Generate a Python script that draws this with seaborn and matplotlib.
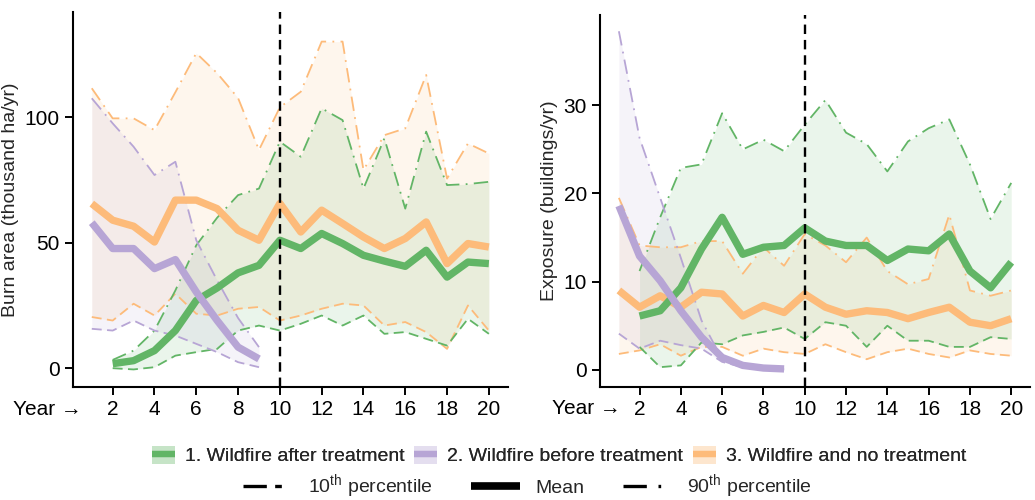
import numpy as np
import pandas as pd
import matplotlib
matplotlib.use("Agg")
import matplotlib.pyplot as plt
from matplotlib.lines import Line2D
from matplotlib.patches import Patch
import seaborn as sns

# ---------------- data ----------------
years_all = list(range(1, 21))      # wildfire and no treatment
years_after = list(range(2, 21))    # wildfire after treatment
years_before = list(range(1, 10))   # wildfire before treatment

# Burn area (thousand ha/yr)
burn_after_mean = [1.8, 3, 7, 15, 27, 32, 38, 41, 51, 47.7, 53.7, 49.7, 45, 42.7, 40.6, 47, 36.3, 42.3, 41.7]
burn_after_p10 = [0, -0.5, 0.4, 5, 6.4, 7.7, 15, 17, 15, 17.7, 21, 17, 21, 13.7, 14.4, 11.7, 9, 19.7, 13.7]
burn_after_p90 = [3.3, 7, 15, 31, 49, 60, 69, 71.6, 90.3, 84.3, 103.6, 98.9, 71.6, 91.6, 63.6, 94.3, 73, 73.4, 74.3]

burn_before_mean = [58, 47.7, 47.7, 39.7, 43.3, 30.4, 19, 8.4, 3.7]
burn_before_p10 = [15.7, 15, 19, 15, 13, 9.7, 6.4, 2.4, 0.4]
burn_before_p90 = [107.6, 97.6, 88.3, 77, 82.3, 51, 35, 20, 8.4]

burn_none_mean = [65.6, 59, 56.6, 50.3, 67, 67, 63.6, 55, 51, 65.7, 54.3, 63, 57.7, 52.3, 47.7, 51.7, 58.3, 41.7, 49.7, 48.3]
burn_none_p10 = [20.4, 19, 25.7, 21, 29.7, 21.7, 21, 23.7, 24.4, 19, 21, 23.7, 25.7, 25, 17, 18.4, 14.4, 7.7, 25, 15]
burn_none_p90 = [111.6, 99.6, 99.6, 94.9, 110, 125.6, 117.6, 107.7, 87, 104, 110.2, 130.2, 130.2, 79, 92.9, 95.6, 116.9, 75.6, 89.6, 85.6]

# Exposure (buildings/yr)
exp_after_mean = [6.1, 6.7, 9.3, 13.7, 17.3, 13.1, 13.9, 14.1, 16.1, 14.6, 14.1, 14.1, 12.4, 13.7, 13.5, 15.4, 11.2, 9.3, 12.2]
exp_after_p10 = [2.6, 0.3, 0.5, 3.1, 2.9, 3.9, 4.3, 4.8, 3.5, 5.4, 5, 2.6, 5, 3.3, 3.3, 2.6, 2.6, 3.7, 3.5]
exp_after_p90 = [11.2, 17.3, 22.9, 23.3, 29.1, 25, 26.1, 24.8, 27.8, 30.6, 26.9, 25.6, 22.5, 25.9, 27.4, 28.4, 23.3, 17.1, 21.2]

exp_before_mean = [18.6, 12.9, 10.1, 6.7, 3.7, 1.4, 0.5, 0.2, 0.1]
exp_before_p10 = [4.1, 2.4, 3.3, 2.8, 2.4, 0.9, 0.3, 0.1, 0.0]
exp_before_p90 = [38.4, 26.3, 19.5, 12.7, 5.6, 1.2, 0.4, 0.2, 0.1]

exp_none_mean = [9, 7.1, 8.4, 7.1, 8.8, 8.6, 6.1, 7.3, 6.5, 8.6, 7.1, 6.3, 6.7, 6.5, 5.8, 6.5, 7.1, 5.4, 5, 5.8]
exp_none_p10 = [1.8, 2.2, 2.9, 1.6, 2.6, 2.6, 1.6, 2.4, 2.0, 1.8, 2.9, 2.0, 1.2, 2.0, 2.4, 1.8, 1.4, 2.2, 1.8, 1.6]
exp_none_p90 = [19.5, 14.1, 13.9, 13.9, 14.6, 14.6, 10.9, 13.9, 11.8, 15.4, 14.1, 12.2, 15, 11.2, 9.7, 10.3, 17.6, 9, 8.4, 9]

group_labels = ["1. Wildfire after treatment", "2. Wildfire before treatment", "3. Wildfire and no treatment"]
x_ticks = [2, 4, 6, 8, 10, 12, 14, 16, 18, 20]
treatment_year = 10

# ---------------- style ----------------
sns.set_theme(style="ticks")
plt.rcParams["font.family"] = ["Liberation Sans", "DejaVu Sans"]
plt.rcParams["mathtext.fontset"] = "custom"
plt.rcParams["mathtext.rm"] = "Liberation Sans"
plt.rcParams["mathtext.it"] = "Liberation Sans:italic"
plt.rcParams["mathtext.bf"] = "Liberation Sans:bold"

colors = {group_labels[0]: "#62B566", group_labels[1]: "#B7A5D5", group_labels[2]: "#FDBB7A"}
fill_alpha = 0.13
ls_p10 = (0, (5.5, 3))
ls_p90 = (0, (8, 3.5, 1, 3.5))
FS_TICK = 15
FS_LAB = 14
FS_LEG = 14


def make_df(x, mean, p10, p90, label):
    return pd.DataFrame({"year": x, "mean": mean, "p10": p10, "p90": p90, "group": label})


panels = [
    dict(df=pd.concat([
        make_df(years_after, burn_after_mean, burn_after_p10, burn_after_p90, group_labels[0]),
        make_df(years_before, burn_before_mean, burn_before_p10, burn_before_p90, group_labels[1]),
        make_df(years_all, burn_none_mean, burn_none_p10, burn_none_p90, group_labels[2]),
    ]), ylabel="Burn area (thousand ha/yr)", yticks=[0, 50, 100], ylim=(-7.5, 142), yearx=0.02),
    dict(df=pd.concat([
        make_df(years_after, exp_after_mean, exp_after_p10, exp_after_p90, group_labels[0]),
        make_df(years_before, exp_before_mean, exp_before_p10, exp_before_p90, group_labels[1]),
        make_df(years_all, exp_none_mean, exp_none_p10, exp_none_p90, group_labels[2]),
    ]), ylabel="Exposure (buildings/yr)", yticks=[0, 10, 20, 30], ylim=(-1.95, 40.3), yearx=0.047),
]

fig = plt.figure(figsize=(10.35, 5.0), dpi=100)
ax_pos = [[0.0705, 0.226, 0.420, 0.75], [0.580, 0.226, 0.415, 0.745]]

draw_order = [group_labels[2], group_labels[0], group_labels[1]]

for pos, p in zip(ax_pos, panels):
    ax = fig.add_axes(pos)
    df = p["df"]
    # fills
    for g in draw_order:
        d = df[df.group == g]
        ax.fill_between(d["year"], d["p10"], d["p90"], color=colors[g], alpha=fill_alpha, lw=0)
    # percentile lines
    for g in draw_order:
        d = df[df.group == g]
        sns.lineplot(data=d, x="year", y="p10", ax=ax, color=colors[g], lw=1.3,
                     linestyle=ls_p10, legend=False)
        sns.lineplot(data=d, x="year", y="p90", ax=ax, color=colors[g], lw=1.3,
                     linestyle=ls_p90, legend=False)
    # mean lines
    for g in draw_order:
        d = df[df.group == g]
        sns.lineplot(data=d, x="year", y="mean", ax=ax, color=colors[g], lw=5.3,
                     solid_joinstyle="round", solid_capstyle="butt", legend=False)
    ax.axvline(treatment_year, color="black", lw=1.7, linestyle=(0, (4, 2.5)))

    ax.set_xlim(0.1, 20.9)
    ax.set_ylim(*p["ylim"])
    ax.set_xticks(x_ticks)
    ax.set_yticks(p["yticks"])
    ax.set_xlabel("")
    ax.set_ylabel(p["ylabel"], fontsize=FS_LAB, labelpad=4)
    ax.tick_params(axis="both", labelsize=FS_TICK, length=5.5, width=1.4, color="black",
                   labelcolor="black", pad=4)
    for s in ["left", "bottom"]:
        ax.spines[s].set_linewidth(1.5)
        ax.spines[s].set_color("black")
    sns.despine(ax=ax)
    ax.text(p["yearx"], -0.059, "Year \u2192", transform=ax.transAxes, ha="right", va="center",
            fontsize=FS_TICK, color="black",
            family=["Liberation Sans", "DejaVu Sans"])

# legend row 1: groups
group_handles = [
    (Patch(facecolor=colors[g], alpha=0.2, edgecolor="none"),
     Line2D([0], [0], color=colors[g], lw=4.5, solid_capstyle="butt"))
    for g in group_labels
]
leg1 = fig.legend(group_handles, group_labels, loc="center", bbox_to_anchor=(0.54, 0.089),
                  ncol=3, frameon=False, fontsize=FS_LEG, handlelength=1.2, handleheight=1.1,
                  columnspacing=0.5, handletextpad=0.5)

# legend row 2: statistics
stat_handles = [
    Line2D([0], [0], color="black", lw=2.4, linestyle=(0, (7, 2.5, 2, 20)), dash_capstyle="butt"),
    Line2D([0], [0], color="black", lw=5.5, solid_capstyle="butt"),
    Line2D([0], [0], color="black", lw=2.4, linestyle=(0, (7, 3.5, 0.8, 20)), dash_capstyle="butt"),
]
stat_labels = ["10$^{\\mathrm{th}}$ percentile", "Mean", "90$^{\\mathrm{th}}$ percentile"]
leg2 = fig.legend(stat_handles, stat_labels, loc="center", bbox_to_anchor=(0.51, 0.027),
                  ncol=3, frameon=False, fontsize=FS_LEG, handlelength=2.5,
                  columnspacing=2.0, handletextpad=0.8)
fig.add_artist(leg1)

fig.savefig("out.png", dpi=100)
